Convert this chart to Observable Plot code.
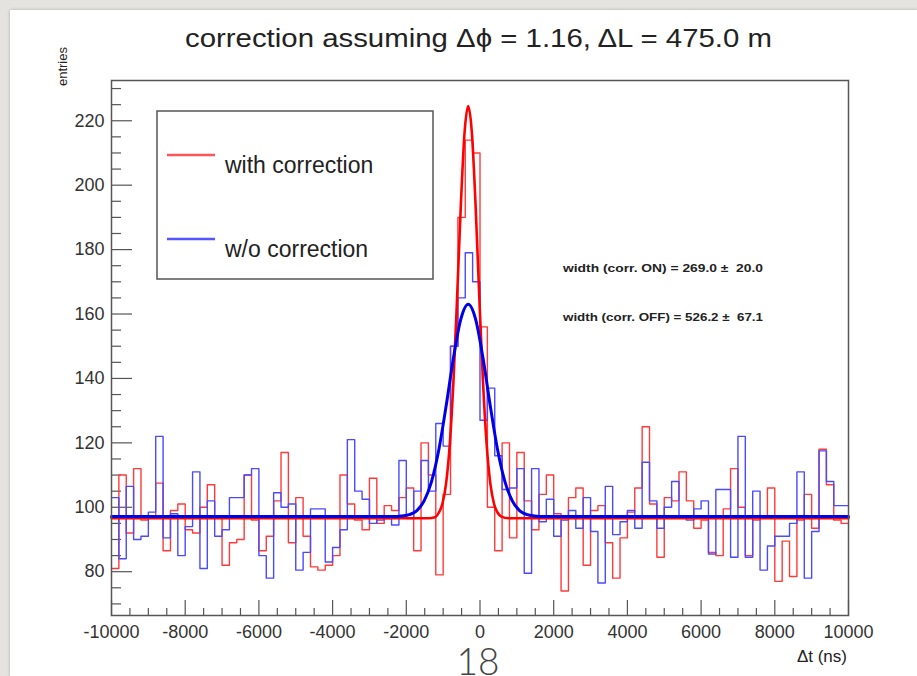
<!DOCTYPE html>
<html><head><meta charset="utf-8">
<script src="https://cdn.jsdelivr.net/npm/d3@7"></script>
<script src="https://cdn.jsdelivr.net/npm/@observablehq/plot@0.6"></script>
<style>
html,body{margin:0;padding:0;}
body{width:917px;height:676px;background:#e5e3df;position:relative;overflow:hidden;font-family:"Liberation Sans",Arial,Helvetica,sans-serif;}
#slide{position:absolute;left:10px;top:10px;right:0;bottom:0;background:#fff;box-shadow:0 0 3px rgba(0,0,0,0.25);}
#chart{position:absolute;left:0;top:0;}
</style></head><body>
<div id="slide"></div><div id="chart"></div>
<script>
// ---- texts ----
const titleText = "correction assuming Δϕ = 1.16, ΔL = 475.0 m";
const xTitle = "Δt (ns)";
const yTitle = "entries";
const seriesNames = ["with correction", "w/o correction"];
const fitLabels = ["width (corr. ON) = 269.0 ±  20.0", "width (corr. OFF) = 526.2 ±  67.1"];
const pageNumber = "18";

// ---- binning (100 bins of 200 ns from -10000 to 10000) ----
const binLo = -10000;
const binW = 200;

// ---- histogram contents ----
const withCorrection = [
  81, 110, 92, 112, 96, 97, 107.5, 86.5, 99, 101,
  93, 92, 100, 107, 97, 82, 89, 90, 110, 96,
  86.5, 91, 102, 117, 89, 103, 91, 81.5, 80.5, 82,
  85, 110, 101, 96, 93, 109, 95, 100.5, 99, 103,
  106, 86.5, 120, 110, 79, 104, 150, 190, 214, 210,
  156, 100, 86.5, 120, 90.5, 117, 102, 93, 104, 110,
  98, 74, 103, 106, 82, 99, 100.5, 89, 78, 90.5,
  98.5, 106, 125, 101, 84.5, 103, 102, 111, 102, 93.5,
  96, 86, 85, 99.5, 112, 100, 85, 96, 97, 106,
  77, 89.5, 78.5, 96, 104, 93.5, 118, 107, 96, 95
];
const withoutCorrection = [
  103, 84, 106.5, 90, 91, 98.5, 122, 90.5, 98, 85,
  94, 111, 81, 102, 91, 93, 103, 103, 110, 112,
  85, 78, 104.5, 100, 101, 80.5, 86, 99.5, 99.5, 83,
  87.5, 93, 121, 105, 102.5, 95, 96, 96.5, 94.5, 114.5,
  96.5, 105, 114.5, 105, 126, 119, 150, 165, 179, 170,
  127, 137, 116, 105.5, 106, 112, 79.5, 112, 95.5, 102.5,
  91, 96, 99, 93.5, 103, 92.5, 76.5, 106.5, 91.5, 95.5,
  99, 93.5, 114, 102, 93.5, 100, 108, 97, 96, 99.5,
  102, 85.5, 105.5, 105.5, 84.5, 122, 84.5, 105, 80.5, 88,
  91, 91, 95, 111, 78, 92.5, 117.5, 108, 100.5, 100.5
];

// ---- fitted curves ----
const redFitT = [-10000, -1400, -1220, -1120, -1020, -920, -820, -720, -620, -520, -420, -320, -220, -120, -20, 80, 180, 280, 380, 480, 580, 780, 10000];
const redFitV = [96.6, 96.6, 96.9, 98.3, 101.1, 107.4, 119.6, 139.2, 165.5, 193.8, 216.2, 224.6, 216.2, 193.8, 165.5, 139.2, 119.6, 107.4, 101.1, 98.3, 97.1, 96.6, 96.6];
const blueFitT = [-10000, -2300, -2120, -1920, -1720, -1520, -1320, -1120, -920, -720, -520, -320, -120, 80, 280, 480, 680, 880, 1080, 1280, 1480, 1700, 10000];
const blueFitV = [97.1, 97.1, 97.3, 97.7, 98.9, 101.9, 107.8, 117.7, 131.4, 146.4, 158.4, 163, 158.4, 146.4, 131.4, 117.7, 107.8, 101.9, 98.9, 97.7, 97.3, 97.1, 97.1];

// ---- axes ----
const xDomain = [-10000, 10000];
const yDomain = [66.4, 232.5];
const xMajor = [-10000, -8000, -6000, -4000, -2000, 0, 2000, 4000, 6000, 8000, 10000];
const xMinor = d3.range(-10000, 10001, 500).filter(d => !xMajor.includes(d));
const yMajor = [80, 100, 120, 140, 160, 180, 200, 220];
const yMinor = d3.range(70, 232, 5).filter(d => !yMajor.includes(d));

function histPoints(vals) {
  const pts = vals.map((v, i) => ({t: binLo + i * binW, v}));
  pts.push({t: binLo + vals.length * binW, v: vals[vals.length - 1]});
  return pts;
}
const redPts = histPoints(withCorrection);
const bluePts = histPoints(withoutCorrection);
const redFit = redFitT.map((t, i) => ({t, v: redFitV[i]}));
const blueFit = blueFitT.map((t, i) => ({t, v: blueFitV[i]}));

const ink = "#333";
const fontFam = "Liberation Sans, Arial, Helvetica, sans-serif";

const svg = Plot.plot({
  width: 917, height: 676,
  marginLeft: 111, marginRight: 69, marginTop: 80, marginBottom: 61,
  style: {background: "transparent", fontFamily: fontFam, color: ink},
  x: {domain: xDomain, label: null},
  y: {domain: yDomain, label: null},
  marks: [
    Plot.axisY(yMajor, {tickSize: 0, tickPadding: 7, fontSize: 18, tickFormat: d => String(d), fill: ink, label: null}),
    Plot.axisY(yMajor, {tickSize: -21, text: null, stroke: "#555", strokeWidth: 1.2, label: null}),
    Plot.axisY(yMinor, {tickSize: -10, text: null, stroke: "#555", strokeWidth: 1.2, label: null}),
    Plot.axisX(xMajor, {tickSize: 0, tickPadding: 10, fontSize: 18, tickFormat: d => String(d), fill: ink, label: null}),
    Plot.axisX(xMajor, {tickSize: -15, text: null, stroke: "#555", strokeWidth: 1.2, label: null}),
    Plot.axisX(xMinor, {tickSize: -7, text: null, stroke: "#555", strokeWidth: 1.2, label: null}),
    Plot.line(redPts, {x: "t", y: "v", curve: "step-after", stroke: "#ff3a3a", strokeWidth: 1.4}),
    Plot.line(bluePts, {x: "t", y: "v", curve: "step-after", stroke: "#4a4aff", strokeWidth: 1.4}),
    Plot.line(redFit, {x: "t", y: "v", curve: "monotone-x", stroke: "#ff0000", strokeWidth: 2.6}),
    Plot.line(blueFit, {x: "t", y: "v", curve: "monotone-x", stroke: "#0000e6", strokeWidth: 3}),
    Plot.frame({stroke: "#555", strokeWidth: 1.5})
  ]
});
document.getElementById("chart").appendChild(svg);

const g = d3.select(svg).append("g").attr("font-family", fontFam).attr("fill", "#222")
  .attr("text-anchor", "start");
// title
g.append("text").attr("x", 185).attr("y", 47).attr("text-anchor", "start")
  .attr("font-size", 25).attr("textLength", 587).attr("lengthAdjust", "spacingAndGlyphs").text(titleText);
// axis titles
g.append("text").attr("transform", "translate(67,47) rotate(-90)").attr("text-anchor", "end")
  .attr("font-size", 13).text(yTitle);
g.append("text").attr("x", 847).attr("y", 662).attr("text-anchor", "end")
  .attr("font-size", 17).text(xTitle);
// legend
g.append("rect").attr("x", 157).attr("y", 111).attr("width", 276).attr("height", 168)
  .attr("fill", "none").attr("stroke", "#555").attr("stroke-width", 1.5);
const legendColors = ["#ff5555", "#5555ff"];
const legendY = [155, 239];
seriesNames.forEach((name, i) => {
  g.append("line").attr("x1", 167).attr("x2", 215).attr("y1", legendY[i]).attr("y2", legendY[i])
    .attr("stroke", legendColors[i]).attr("stroke-width", 2.5);
  g.append("text").attr("x", 225).attr("y", legendY[i] + 18).attr("text-anchor", "start")
    .attr("font-size", 23).text(name);
});
// fit annotations
const annY = [272, 321];
fitLabels.forEach((s, i) => {
  g.append("text").attr("x", 563).attr("y", annY[i]).attr("text-anchor", "start")
    .attr("font-size", 10).attr("font-weight", "bold")
    .attr("textLength", 200).attr("lengthAdjust", "spacingAndGlyphs").text(s);
});
// page number
g.append("text").attr("x", 478).attr("y", 675).attr("text-anchor", "middle")
  .attr("font-size", 37).attr("font-weight", 300).attr("fill", "#444")
  .attr("font-family", "Lato, 'Open Sans', sans-serif").text(pageNumber);
</script>
</body></html>
